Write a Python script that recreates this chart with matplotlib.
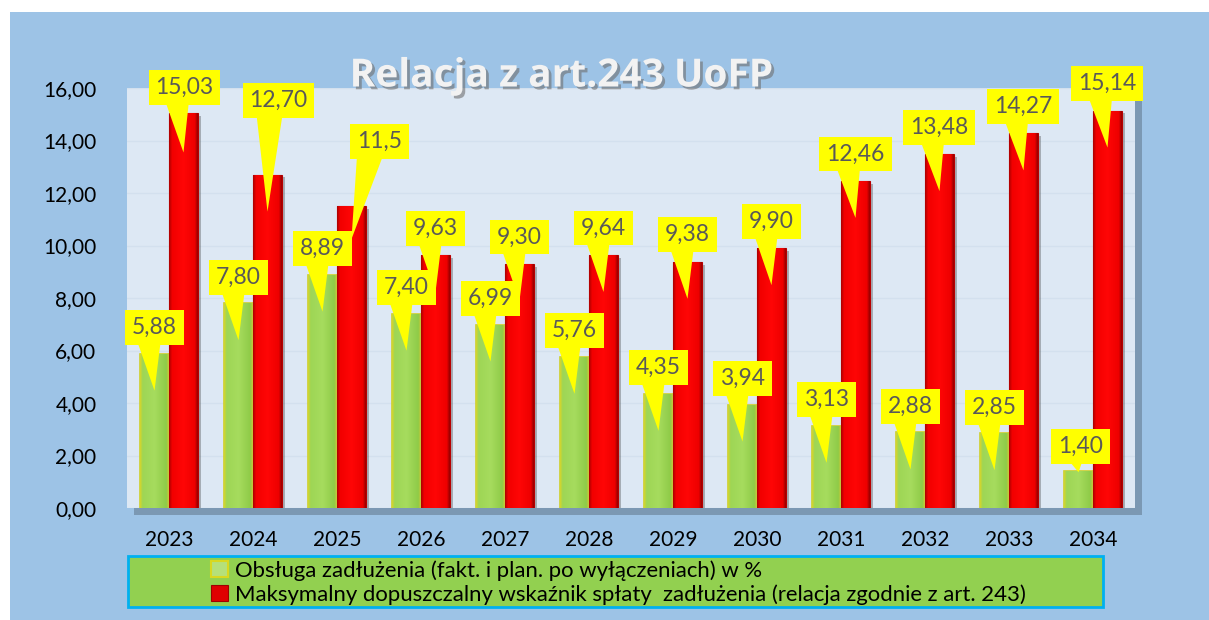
import matplotlib
matplotlib.use("Agg")
import matplotlib.pyplot as plt
import matplotlib.patheffects as pe
from matplotlib.patches import Rectangle, Patch
from matplotlib.colors import to_rgb
import numpy as np

# dane z wykresu
years = ["2023", "2024", "2025", "2026", "2027", "2028",
         "2029", "2030", "2031", "2032", "2033", "2034"]
obsluga = [5.88, 7.80, 8.89, 7.40, 6.99, 5.76, 4.35, 3.94, 3.13, 2.88, 2.85, 1.40]
maks = [15.03, 12.70, 11.5, 9.63, 9.30, 9.64, 9.38, 9.90, 12.46, 13.48, 14.27, 15.14]
maks_txt = ["15,03", "12,70", "11,5", "9,63", "9,30", "9,64",
            "9,38", "9,90", "12,46", "13,48", "14,27", "15,14"]
obsluga_txt = [f"{v:.2f}".replace(".", ",") for v in obsluga]

leg_green = "Obsługa zadłużenia (fakt. i plan. po wyłączeniach) w %"
leg_red = "Maksymalny dopuszczalny wskaźnik spłaty  zadłużenia (relacja zgodnie z art. 243)"
title = "Relacja z art.243 UoFP"

W, H = 1209, 620
fig = plt.figure(figsize=(W / 100, H / 100), dpi=100)
fig.patch.set_facecolor("white")
plt.rcParams["font.family"] = ["Lato", "DejaVu Sans"]

# niebieskie tlo
fig.patches.append(Rectangle((10 / W, 0), 1 - 10 / W, 1 - 12 / H,
                             transform=fig.transFigure, fc="#9DC3E6", ec="none", zorder=-10))

ax = fig.add_axes([127 / W, 112 / H, 1008 / W, 420 / H])
ax.set_facecolor("#DDE8F4")
ax.patch.set_path_effects([pe.SimplePatchShadow(offset=(5, -5), shadow_rgbFace="#5A6E82", alpha=0.5),
                           pe.Normal()])

x = np.arange(len(years))
bw = 0.345
shadow = [pe.SimplePatchShadow(offset=(2, -2), shadow_rgbFace="#404040", alpha=0.35), pe.Normal()]
gb = ax.bar(x - bw / 2, obsluga, bw, color="#9BD651", edgecolor="#CFCF2A", linewidth=1.2, zorder=3)
rb = ax.bar(x + bw / 2, maks, bw, color="#FF0000", edgecolor="#B80000", linewidth=0.8, zorder=3)
for b in list(gb) + list(rb):
    b.set_path_effects(shadow)

# cieniowanie "walca" na slupkach
def shade(bars, stops, cols):
    t = np.linspace(0, 1, 40)
    rgb = np.array([to_rgb(c) for c in cols])
    grad = np.stack([np.interp(t, stops, rgb[:, k]) for k in range(3)], axis=-1)[None, :, :]
    for b in bars:
        x0, w, h = b.get_x(), b.get_width(), b.get_height()
        im = ax.imshow(grad, extent=[x0, x0 + w, 0, h], aspect="auto", zorder=3.2,
                       interpolation="bilinear")
        im.set_clip_path(b)

shade(gb, [0, 0.08, 0.5, 0.92, 1], ["#D2D52E", "#9ED655", "#A6DC5E", "#8FCB48", "#C6C83A"])
shade(rb, [0, 0.1, 0.5, 0.9, 1], ["#B00000", "#F20000", "#FF0606", "#EE0000", "#9A0000"])

ax.set_xlim(-0.5, len(years) - 0.5)
ax.set_ylim(0, 16)
ax.set_yticks(range(0, 17, 2))
ax.set_yticklabels([f"{v:.2f}".replace(".", ",") for v in range(0, 17, 2)])
ax.set_xticks(x)
ax.set_xticklabels(years)
ax.tick_params(axis="y", length=0, pad=22, labelsize=15, labelcolor="black")
ax.tick_params(axis="x", length=0, pad=16, labelsize=15, labelcolor="black")
ax.grid(axis="y", color="#D3E0EE", linewidth=1, zorder=0)
ax.set_axisbelow(True)
for s in ax.spines.values():
    s.set_visible(False)

# etykiety (dymki)
px = 26.25  # pikseli na jednostke
drop_red = [39, 37, 33] + [37] * 9
off_red = [(1, 65), (11, 111), (28, 98)] + [(0, 64)] * 9
drop_green = [37] * 11 + [1]
off_green = [(0, 63)] * 11 + [(2, 26)]

def callout(xb, v, txt, drop, off, z):
    ax.annotate(txt, xy=(xb, v - drop / px), xycoords="data",
                xytext=off, textcoords="offset pixels",
                ha="center", va="center", fontsize=16.5, color="#595959", zorder=z,
                bbox=dict(boxstyle="square,pad=0.3", fc="#FFFF00", ec="none"),
                arrowprops=dict(arrowstyle="wedge,tail_width=1.3", fc="#FFFF00", ec="none",
                                patchA=None, shrinkA=0, shrinkB=0, relpos=(0.35, 0.5)),
                annotation_clip=False)

for i in range(len(years)):
    callout(x[i] + bw / 2, maks[i], maks_txt[i], drop_red[i], off_red[i], 5)
for i in range(len(years)):
    callout(x[i] - bw / 2, obsluga[i], obsluga_txt[i], drop_green[i], off_green[i], 6)

# tytul
fig.text(561 / W, 1 - 76 / H, title, ha="center", va="center", fontsize=28,
         fontweight="bold", color="#F2F2F2", family=["Open Sans", "DejaVu Sans"],
         path_effects=[pe.SimplePatchShadow(offset=(2, -2), shadow_rgbFace="#6F6F6F", alpha=0.6),
                       pe.Normal()], zorder=10)

# legenda
fig.patches.append(Rectangle((128 / W, 1 - 607 / H), 975 / W, 51 / H, transform=fig.transFigure,
                             fc="#92D050", ec="#00B0F0", lw=2, zorder=-5))
handles = [Patch(fc="#B5E07A", ec="#D8D820", lw=1.5), Patch(fc="#E00000", ec="#A00000", lw=0.8)]
fig.legend(handles, [leg_green, leg_red], loc="upper left",
           bbox_to_anchor=(196 / W, 1 - 545 / H), frameon=False, fontsize=15.9,
           handlelength=0.75, handleheight=0.75, handletextpad=0.3, labelspacing=0.15,
           borderpad=0.2, labelcolor="black")

fig.savefig("out.png", dpi=100, facecolor=fig.get_facecolor())
